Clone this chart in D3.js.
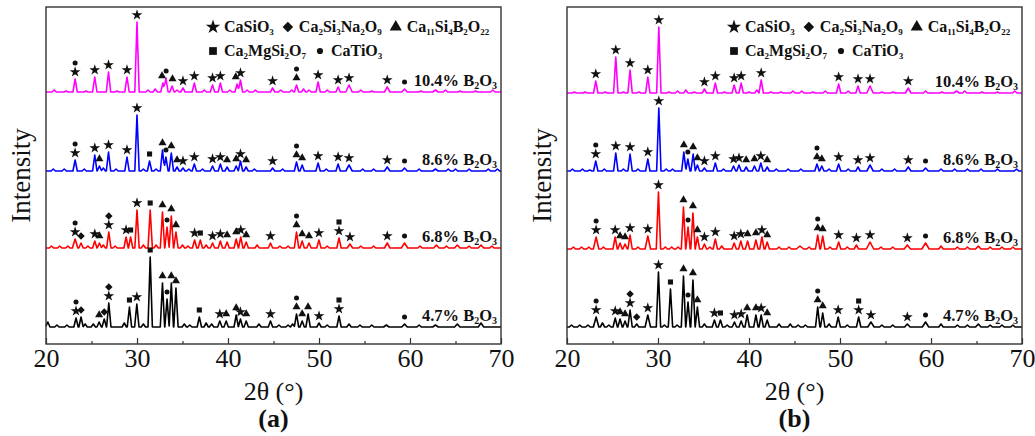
<!DOCTYPE html>
<html>
<head>
<meta charset="utf-8">
<script src="https://cdn.jsdelivr.net/npm/d3@7"></script>
<style>
  body { margin: 0; background: #fff; }
  text { font-family: "Liberation Serif", "Times New Roman", serif; }
</style>
</head>
<body>
<div id="chart"></div>
<script>
// samples, bottom to top
const samples = ["4.7%", "6.8%", "8.6%", "10.4%"];
const colors = ["#000000", "#ff0000", "#0000ff", "#ff00ff"];

// phases: s = CaSiO3, d = Ca2Si3Na2O9, t = Ca11Si4B2O22, q = Ca2MgSi2O7, c = CaTiO3
const phaseCodes = ["s", "d", "t", "q", "c"];
const phaseNames = ["CaSiO3", "Ca2Si3Na2O9", "Ca11Si4B2O22", "Ca2MgSi2O7", "CaTiO3"];

const xTicks = [20, 30, 40, 50, 60, 70];
const xMinor = [25, 35, 45, 55, 65];

// peaks: [2theta, intensity (a.u.), half width]
// ---- panel (a)
const peaksA47 = [[20.2,5],[21.2,2],[22.3,2],[23.3,9],[23.85,10],[24.3,3],[25.2,3],[25.84,5],[26.4,8],[26.9,24],[28.6,4],[29.17,20],[29.98,23],[30.7,3],[31.45,70],[32.8,44],[33.3,28],[33.77,44],[34.28,39],[35.2,3],[35.8,2],[36.85,10],[37.6,4],[38.2,3],[39.1,6],[39.8,6],[40.9,12],[41.37,8],[42.0,6],[43.4,3],[44.67,6],[45.6,2],[46.6,2],[47.1,3],[47.53,13],[48.15,6],[48.8,13],[50.0,4],[50.9,2],[52.2,11],[53.3,3],[54.5,2],[55.8,2],[57.4,2,0.3],[59.4,3,0.3],[61,2],[62.8,2,0.3],[65.2,3,0.3],[67.8,4,0.3]];
const peaksA68 = [[20.6,2],[21.5,2],[22.4,2],[23.2,9,0.3],[23.85,5],[24.6,2],[25.36,7],[25.87,5],[26.3,3],[26.9,16],[27.6,2],[28.8,11],[29.3,11],[30.0,38],[30.7,3],[31.45,38],[32.1,3],[32.8,36],[33.3,21],[33.77,32],[34.28,16],[35.0,3],[35.6,2],[36.33,8],[36.96,8],[37.6,3],[38.3,5],[39.16,7],[39.9,6],[40.9,9],[41.4,11],[42.0,6],[43.2,3],[44.67,5],[45.7,2],[46.6,2],[47.53,16],[48.15,7],[48.9,5],[49.99,8],[50.9,2],[52.2,10],[53.4,4,0.3],[54.6,2],[56,2],[57.5,5,0.3],[59.4,5,0.35],[61.1,2],[62.9,3,0.3],[64,2],[65.2,3,0.3],[66.5,2],[67.8,3,0.3],[69,2]];
const peaksA86 = [[20.8,2],[22,2],[23.2,11],[24.2,2],[25.36,16],[25.87,5],[26.3,3],[26.87,19],[27.7,2],[28.9,14],[30.0,56],[30.7,2],[31.38,10],[32.1,2],[32.8,21],[33.18,14],[33.77,18],[34.4,4],[35.05,3],[35.7,2],[36.3,7],[37.2,2],[38.3,5],[39.16,7],[39.9,4],[40.9,5],[41.37,10],[41.99,4],[42.9,2],[44.9,3],[46,2],[47.53,9],[48.15,6],[49.9,8],[50.8,2],[52.1,7],[53.3,6,0.35],[54.8,2],[56,2],[57.5,4,0.3],[59.4,3,0.3],[61,2],[62.8,2,0.3],[64.2,2],[65,2],[66.5,2],[68.6,2],[69.6,2]];
const peaksA104 = [[20.9,2],[22.2,1],[23.2,13],[24.4,1],[25.36,15],[26.87,20],[27.8,1],[28.9,15],[30.0,70],[31.2,2],[32.0,3],[32.85,9],[33.18,14],[33.85,6],[34.4,2],[35.05,4],[36.3,9],[37.4,2],[38.3,7],[39.16,9],[40.2,2],[41.0,8],[41.37,12],[42.1,2],[43.0,2],[44.9,4],[45.8,2],[47.0,2],[47.53,7],[48.3,3],[48.9,2],[49.9,10],[50.9,2],[52.1,5],[53.3,7,0.35],[54.6,2],[55.8,1],[57.5,5,0.3],[59.4,3,0.3],[61.2,1],[62.8,2,0.3],[63.9,2],[65.5,1],[67.2,1],[69.1,2]];

// phase marks: [2theta, symbols bottom to top]
const marksA47 = [[23.3,"sc"],[23.85,"d"],[25.84,"t"],[26.4,"d"],[26.9,"sd"],[29.17,"q"],[29.98,"s"],[31.45,"q"],[32.8,"t"],[33.3,"c"],[33.77,"t"],[34.28,"t"],[36.85,"q"],[39.1,"s"],[39.8,"t"],[40.9,"t"],[41.37,"s"],[42.0,"t"],[44.67,"s"],[47.53,"tc"],[48.15,"t"],[48.8,"t"],[50.0,"s"],[52.2,"sq"],[59.4,"c"]];
const marksA68 = [[23.2,"sc"],[23.85,"d"],[25.36,"s"],[25.87,"t"],[26.9,"sd"],[28.8,"s"],[29.3,"q"],[30.0,"s"],[31.45,"q"],[32.8,"t"],[33.3,"c"],[33.77,"t"],[34.28,"t"],[36.33,"s"],[36.96,"q"],[38.3,"s"],[39.16,"s"],[39.9,"t"],[40.9,"t"],[41.4,"s"],[42.0,"t"],[44.67,"s"],[47.53,"tc"],[48.15,"t"],[48.9,"t"],[49.99,"s"],[52.2,"sq"],[53.4,"s"],[57.5,"s"],[59.4,"c"]];
const marksA86 = [[23.2,"sc"],[25.36,"s"],[25.87,"t"],[26.87,"s"],[28.9,"s"],[30.0,"s"],[31.38,"q"],[32.8,"t"],[33.18,"c"],[33.77,"t"],[34.4,"t"],[35.05,"s"],[36.3,"s"],[38.3,"s"],[39.16,"s"],[39.9,"t"],[40.9,"t"],[41.37,"s"],[41.99,"t"],[44.9,"s"],[47.53,"tc"],[48.15,"t"],[49.9,"s"],[52.1,"s"],[53.3,"s"],[57.5,"s"],[59.4,"c"]];
const marksA104 = [[23.2,"sc"],[25.36,"s"],[26.87,"s"],[28.9,"s"],[30.0,"s"],[32.75,"t"],[33.2,"c"],[33.9,"t"],[35.05,"s"],[36.3,"s"],[38.3,"s"],[39.16,"s"],[40.85,"t"],[41.37,"s"],[44.9,"s"],[47.53,"tc"],[49.9,"s"],[52.1,"s"],[53.3,"s"],[57.5,"s"],[59.4,"c"]];

// ---- panel (b)
const peaksB47 = [[20.5,2],[21.4,2],[22.3,2],[23.2,10,0.3],[23.9,4],[24.6,2],[25.3,9],[25.83,8],[26.38,6],[26.93,17],[27.66,3],[28.88,12,0.3],[30.05,55],[30.7,2],[31.37,38],[32.1,2],[32.8,51],[33.3,25],[33.84,47],[34.33,20],[35.1,3],[36.2,7],[36.86,7],[37.6,2],[38.4,5],[39.14,6],[39.8,12],[40.76,12],[41.34,12],[42.0,7],[43.3,3],[44.53,3],[45.4,2],[46.2,2],[47.55,20],[48.1,14],[48.8,3],[49.8,10],[50.8,2],[52.05,10],[53.4,5,0.35],[54.6,2],[55.8,2],[57.4,3,0.3],[59.4,5,0.35],[61.1,3],[62.9,2],[64,2],[65.2,3,0.3],[66.5,2],[67.8,2],[69,2]];
const peaksB68 = [[20.7,2],[21.6,2],[22.4,2],[23.2,12,0.3],[24,2],[25.29,12],[25.83,6],[26.38,5],[26.93,14],[27.8,2],[28.88,13,0.3],[30.05,57],[30.8,2],[31.5,2],[32.2,2],[32.8,42],[33.3,22],[33.84,36],[34.33,12],[35.1,5],[35.7,2],[36.3,10],[37,3],[38.37,6],[39.1,8],[39.84,8],[40.76,9],[41.42,12],[42.0,7],[43.3,2],[44.4,2],[45.6,3,0.4],[46.6,2],[47.55,14],[48.1,13],[48.9,2],[49.85,7],[50.8,2],[51.8,4],[53.3,7,0.4],[54.5,2],[55.8,2],[57.4,4,0.35],[59.4,6,0.4],[61.1,3],[62.9,2],[64,2],[65.2,3,0.3],[66.5,2],[67.8,2],[69,2]];
const peaksB86 = [[20.6,2],[21.7,2],[22.5,1],[23.16,10],[24.1,2],[25.36,18],[26.2,2],[26.93,17],[27.8,2],[28.88,12],[30.09,63],[30.9,2],[31.6,2],[32.84,19],[33.28,12],[33.86,17],[34.33,6],[35.1,3],[36.3,8],[37.2,2],[38.3,5],[38.9,6],[39.69,4],[40.6,5],[41.3,8],[42.0,4],[43,2],[44.3,2],[45.7,2],[47.47,7],[48.0,5],[48.8,2],[49.85,7],[50.9,2],[51.98,4],[53.3,6,0.35],[54.6,2],[56,2],[57.5,4,0.3],[59.4,3,0.3],[61.1,2],[62.6,2],[64,2],[65.5,2],[67.3,2],[69.4,2]];
const peaksB104 = [[20.8,1],[22,1],[23.16,12],[24.2,1],[25.36,36],[26.2,1],[26.93,23],[27.9,1],[28.88,16],[30.09,66],[31.2,1],[32.14,2],[33.06,3],[34.0,1],[35.1,4],[36.3,10],[37.3,1],[38.37,8],[39.14,10],[40.0,1],[40.86,3],[41.34,13],[42.4,1],[43.5,1],[44.83,2],[45.8,2],[47.0,1],[48.38,2],[49.85,9],[50.9,2],[51.98,7],[53.3,7,0.35],[54.6,1],[55.8,1],[57.5,5,0.3],[59.4,2],[61.2,1],[62.8,2,0.3],[63.7,2],[65.6,1],[67.3,1],[69.2,2]];

const marksB47 = [[23.2,"sc"],[25.3,"s"],[25.83,"t"],[26.38,"t"],[26.93,"sd"],[27.66,"d"],[28.88,"s"],[30.05,"s"],[31.37,"q"],[32.8,"t"],[33.3,"c"],[33.84,"t"],[34.33,"t"],[36.2,"s"],[36.86,"q"],[38.4,"s"],[39.14,"s"],[39.8,"t"],[40.76,"t"],[41.34,"s"],[42.0,"t"],[47.55,"tc"],[48.1,"t"],[49.8,"s"],[52.05,"sq"],[53.4,"s"],[57.4,"s"],[59.4,"c"]];
const marksB68 = [[23.2,"sc"],[25.29,"s"],[25.83,"t"],[26.38,"t"],[26.93,"s"],[28.88,"s"],[30.05,"s"],[32.8,"t"],[33.3,"c"],[33.84,"t"],[34.33,"t"],[35.1,"s"],[36.3,"s"],[38.37,"s"],[39.1,"s"],[39.84,"t"],[40.76,"t"],[41.42,"s"],[42.0,"t"],[47.55,"tc"],[48.1,"t"],[49.85,"s"],[51.8,"s"],[53.3,"s"],[57.4,"s"],[59.4,"c"]];
const marksB86 = [[23.16,"sc"],[25.36,"s"],[26.93,"s"],[28.88,"s"],[30.09,"s"],[32.84,"t"],[33.28,"c"],[33.86,"t"],[34.33,"t"],[35.1,"s"],[36.3,"s"],[38.3,"s"],[38.9,"s"],[39.69,"t"],[40.6,"t"],[41.3,"s"],[42.0,"t"],[47.47,"tc"],[48.0,"t"],[49.85,"s"],[51.98,"s"],[53.3,"s"],[57.5,"s"],[59.4,"c"]];
const marksB104 = [[23.16,"s"],[25.36,"s"],[26.93,"s"],[28.88,"s"],[30.09,"s"],[35.1,"s"],[36.3,"s"],[38.37,"s"],[39.14,"s"],[41.34,"s"],[49.85,"s"],[51.98,"s"],[53.3,"s"],[57.5,"s"]];

// stacking offsets of the four patterns (a.u.)
const offsetsA = [17, 96, 173, 252];
const offsetsB = [17, 95, 173, 251];

const W = 1035, H = 436;
const svg = d3.select("#chart").append("svg")
  .attr("width", W).attr("height", H)
  .style("background", "#fff");

const defaultHalfWidth = 0.24;

const symbolPath = {
  s: d3.symbol(d3.symbolStar, 36)(),
  d: d3.symbol(d3.symbolSquare, 28)(),
  t: d3.symbol(d3.symbolTriangle, 28)(),
  q: d3.symbol(d3.symbolSquare, 26)(),
  c: d3.symbol(d3.symbolCircle, 20)()
};
const legendPath = {
  s: d3.symbol(d3.symbolStar, 64)(),
  d: d3.symbol(d3.symbolSquare, 56)(),
  t: d3.symbol(d3.symbolTriangle, 64)(),
  q: d3.symbol(d3.symbolSquare, 60)(),
  c: d3.symbol(d3.symbolCircle, 30)()
};

// text with numeric subscripts (chemical formulas)
function chem(sel, str, subSize) {
  const parts = str.match(/\d+|\D+/g);
  parts.forEach((p, i) => {
    const isSub = /^\d+$/.test(p);
    const prevSub = i > 0 && /^\d+$/.test(parts[i - 1]);
    const t = sel.append("tspan").text(p);
    if (isSub) t.attr("font-size", subSize).attr("dy", 3);
    else if (prevSub) t.attr("dy", -3);
  });
}

function profile(peaks) {
  const verts = [20, 70];
  peaks.forEach(p => {
    const w = p[2] || defaultHalfWidth;
    verts.push(p[0] - w, p[0], p[0] + w);
  });
  verts.sort((a, b) => a - b);
  return verts.filter(v => v >= 20 && v <= 70).map(v => [v, d3.max(peaks, p => {
    const w = p[2] || defaultHalfWidth;
    const dd = Math.abs(v - p[0]);
    return dd < w ? p[1] * (1 - dd / w) : 0;
  })]);
}

function drawPanel(left, allPeaks, allMarks, offsets, letter) {
  const right = left + 455, top = 7, bottom = 344;
  const x = d3.scaleLinear().domain([20, 70]).range([left, right]);
  const y = d3.scaleLinear().domain([0, 337]).range([bottom, top]);
  const g = svg.append("g");

  // traces
  const line = d3.line().x(d => x(d[0])).y(d => y(d[1]));
  allPeaks.forEach((peaks, i) => {
    g.append("path")
      .datum(profile(peaks).map(d => [d[0], d[1] + offsets[i]]))
      .attr("d", line)
      .attr("fill", "none")
      .attr("stroke", colors[i])
      .attr("stroke-width", 1.6)
      .attr("stroke-linejoin", "round");
  });

  // phase markers
  allMarks.forEach((marks, i) => {
    const peaks = allPeaks[i];
    marks.forEach(m => {
      const near = peaks.filter(p => Math.abs(p[0] - m[0]) <= 0.3);
      const h = near.length ? d3.max(near, p => p[1]) : 0;
      const y0 = y(h + offsets[i]) - 7;
      m[1].split("").forEach((c, k) => {
        g.append("path")
          .attr("d", symbolPath[c])
          .attr("transform", `translate(${x(m[0])},${y0 - k * 9})` + (c === "d" ? " rotate(45)" : ""))
          .attr("fill", "#111");
      });
    });
  });

  // sample labels
  samples.forEach((s, i) => {
    const t = g.append("text")
      .attr("x", right - 4)
      .attr("y", y(offsets[i]) - 6)
      .attr("text-anchor", "end")
      .attr("font-size", 16.5)
      .attr("font-weight", "bold")
      .attr("fill", "#111");
    t.append("tspan").text(s + " ");
    chem(t, "B2O3", 10);
  });

  // legend
  const rows = [[0, 1, 2], [3, 4]];
  rows.forEach((row, r) => {
    let cx = left + 161;
    const ly = 32 + r * 24;
    row.forEach(j => {
      g.append("path")
        .attr("d", legendPath[phaseCodes[j]])
        .attr("transform", `translate(${cx + 6},${ly - 5})` + (phaseCodes[j] === "d" ? " rotate(45)" : ""))
        .attr("fill", "#111");
      const t = g.append("text")
        .attr("x", cx + 17).attr("y", ly)
        .attr("font-size", 16).attr("font-weight", "bold").attr("fill", "#111");
      chem(t, phaseNames[j], 9);
      cx += 17 + t.node().getComputedTextLength() + 8;
    });
  });

  // frame
  g.append("rect")
    .attr("x", left).attr("y", top)
    .attr("width", right - left).attr("height", bottom - top)
    .attr("fill", "none").attr("stroke", "#333").attr("stroke-width", 1.4);

  // x axis
  const ax = g.append("g").attr("transform", `translate(0,${bottom})`)
    .call(d3.axisBottom(x).tickValues(xTicks).tickFormat(d3.format("d"))
      .tickSizeInner(-6).tickSizeOuter(0).tickPadding(5));
  ax.select(".domain").remove();
  ax.selectAll("line").attr("stroke", "#333").attr("stroke-width", 1.2);
  ax.selectAll("text").attr("font-size", 26).attr("fill", "#111");
  const mn = g.append("g").attr("transform", `translate(0,${bottom})`)
    .call(d3.axisBottom(x).tickValues(xMinor).tickFormat("").tickSizeInner(-3).tickSizeOuter(0));
  mn.select(".domain").remove();
  mn.selectAll("line").attr("stroke", "#333").attr("stroke-width", 1.2);

  // titles
  g.append("text")
    .attr("transform", `translate(${left - 25},${(top + bottom) / 2}) rotate(-90)`)
    .attr("text-anchor", "middle").attr("dy", "0.35em")
    .attr("font-size", 27).attr("fill", "#111")
    .text("Intensity");
  g.append("text")
    .attr("x", (left + right) / 2).attr("y", 400)
    .attr("text-anchor", "middle").attr("font-size", 26).attr("fill", "#111")
    .text("2θ (°)");
  g.append("text")
    .attr("x", (left + right) / 2).attr("y", 427)
    .attr("text-anchor", "middle").attr("font-size", 26).attr("font-weight", "bold").attr("fill", "#111")
    .text(`(${letter})`);
}

drawPanel(46, [peaksA47, peaksA68, peaksA86, peaksA104], [marksA47, marksA68, marksA86, marksA104], offsetsA, "a");
drawPanel(567, [peaksB47, peaksB68, peaksB86, peaksB104], [marksB47, marksB68, marksB86, marksB104], offsetsB, "b");
</script>
</body>
</html>
